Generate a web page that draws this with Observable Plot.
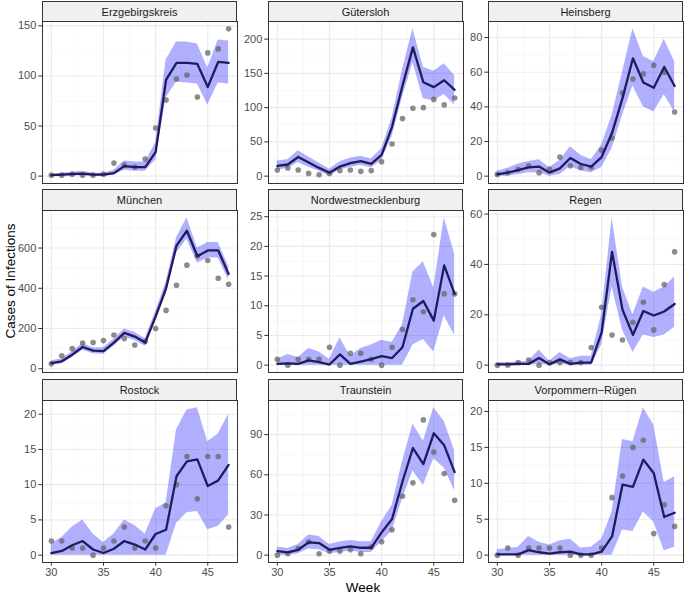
<!DOCTYPE html>
<html>
<head>
<meta charset="utf-8">
<script src="https://cdn.jsdelivr.net/npm/d3@7"></script>
<script src="https://cdn.jsdelivr.net/npm/@observablehq/plot@0.6"></script>
<style>
  html, body { margin: 0; padding: 0; background: #fff; }
  #chart { position: relative; width: 685px; height: 596px; font-family: "Liberation Sans", Arial, sans-serif; }
  .strip { position: absolute; box-sizing: border-box; background: #f0f0f0; border: 1px solid #333; color: #1a1a1a;
           font-size: 11px; display: flex; align-items: center; justify-content: center; }
  .panel { position: absolute; }
  .title { position: absolute; font-size: 13.5px; color: #000; white-space: nowrap; }
</style>
</head>
<body>
<div id="chart"></div>
<script>
const weeks = [30,31,32,33,34,35,36,37,38,39,40,41,42,43,44,45,46,47];
const counties = ["Erzgebirgskreis","Gütersloh","Heinsberg","München","Nordwestmecklenburg","Regen","Rostock","Traunstein","Vorpommern−Rügen"];
const xTicks = [30,35,40,45];
const yTicks = [
  [0,50,100,150],
  [0,50,100,150,200],
  [0,20,40,60,80],
  [0,200,400,600],
  [0,5,10,15,20,25],
  [0,20,40,60],
  [0,5,10,15,20],
  [0,30,60,90],
  [0,5,10,15,20]
];
const observed = [
  [1,1,2,1,1,2,13,11,9,17,48,76,97,101,79,123,127,147],
  [9,12,9,4,2,4,8,9,7,8,21,47,84,99,100,112,104,114],
  [1,2,4,6,2,4,11,6,5,5,15,22,48,56,59,64,60,37],
  [25,65,100,128,130,140,168,150,118,135,200,290,415,515,560,538,450,420],
  [1,0,1,1,1,3,0,2,2,1,0,3,6,11,9,22,12,12],
  [0,0,1,2,0,1,1,1,1,7,23,12,10,17,25,14,32,45],
  [2,2,1,1,0,1,2,4,1,2,1,7,10,14,8,14,14,4],
  [0,1,5,10,1,3,3,4,1,6,10,19,44,54,101,77,61,41],
  [0,1,0,1,1,1,1,0,0,0,1,8,11,15,16,3,7,4]
];
const fitted = [
  [1,1.5,2,2.5,1.5,1.5,3,10,9,9,24,96,113,113,112,89,114,113],
  [15,17,28,20,12,5,14,19,22,18,31,72,132,188,137,130,140,126],
  [1,2,3.5,5,5.5,2,4.5,10.5,7,5.5,11,25,45,68,54,51,63,52],
  [28,37,70,108,90,88,130,178,160,130,260,400,612,686,559,588,588,471],
  [0.2,0.3,0.2,0.8,0.5,0.1,1.8,0.2,0.6,1,1.5,1.2,3,9.5,10.8,7.5,16.8,12],
  [0.3,0.3,0.5,0.5,2.8,0.3,2.3,0.5,1,1,13,45,22,12,21.5,19.7,21.3,24.3],
  [0.3,0.6,1.4,2,0.8,0.3,0.9,2,1.5,0.8,3,3.6,11.2,13.3,13.6,9.8,10.6,12.8],
  [3,2,4,9.5,9,4,5.5,6.5,5.5,5.5,17,27,55,80,68,91,82,62],
  [0.1,0.1,0.1,0.7,0.4,0.2,0.4,0.5,0.1,0.1,0.5,2.6,9.8,9.5,13.3,11.4,5.3,5.9]
];
const lower = [
  [0,0,0.5,0.5,0,0,1,6,5,5,16,78,94,93,92,71,93,92],
  [9,11,20,13,7,0,9,13,16,12,23,58,115,165,113,110,119,104],
  [0,0,1,2,2,0,1,5.5,3,2,5,16,35,52,40,37,47,37],
  [18,25,55,92,75,72,112,158,140,112,235,370,575,645,525,550,550,440],
  [0,0,0,0,0,0,0,0,0,0,0,0,0,3.4,4.3,2.2,8.3,5],
  [0,0,0,0,0.5,0,0.5,0,0,0,8,31,14,5,12,11,12,15],
  [0,0,0,0,0,0,0,0,0,0,0,0,4.5,6,6.2,3.6,4.1,5.7],
  [0,0,1,4.5,4,1,2,3,2,2,10,18,42,63,52,72,65,48],
  [0,0,0,0,0,0,0,0,0,0,0,0,3.5,3.3,6,4.6,0.6,1.1]
];
const upper = [
  [2,3,4,5,3,3,6,15,14,14,33,116,134,134,132,108,136,135],
  [22,24,37,28,19,10,21,26,29,25,40,85,155,215,159,153,164,147],
  [3,4.5,7,8.5,9.5,5,9,17,12,9.5,18,35,60,85,69,66,79,66],
  [40,50,85,125,105,105,148,198,180,150,285,430,650,750,600,627,628,510],
  [1,1.8,1.3,2.8,2.2,1,4.6,1.5,2.8,3.4,4.2,3.8,6.8,15.7,17.4,13,24.8,18.7],
  [1,1,1.2,1.5,6,1.5,5,2.5,3.5,3.5,20,58.5,31,20,31,29,31,35],
  [1.6,2.5,4,5,3,1.8,3,5,4.2,3,6.6,7.4,17.8,20.6,20.9,16.1,17.2,20],
  [6,5,8,15,14,8,10,11,10,10,25,37,70,98,85,110,100,78],
  [0.8,0.9,1.1,2.6,1.8,1.4,2,2.2,1,1.1,2.2,6,16.1,15.8,20.5,18.1,10.1,10.9]
];

// layout
const colLeft = [42, 268, 488];
const panelW = 195;
const stripTop = [1, 189, 379];
const panelTop = [21, 210, 400];
const panelH = 162;
const leftM = 40;

const chart = document.getElementById("chart");
const xDomain = [30 - 0.05 * 17, 47 + 0.05 * 17];

function midpoints(t, lo, hi) {
  const step = t[1] - t[0];
  const out = [];
  for (let v = t[0] - step / 2; v <= t[t.length - 1] + step; v += step) {
    if (v >= lo && v <= hi) out.push(v);
  }
  return out;
}

counties.forEach((name, i) => {
  const row = Math.floor(i / 3), col = i % 3;
  const data = weeks.map((w, j) => ({week: w, obs: observed[i][j], fit: fitted[i][j], lo: lower[i][j], hi: upper[i][j]}));
  const all = data.flatMap(d => [d.obs, d.fit, d.lo, d.hi]);
  const [mn, mx] = d3.extent(all);
  const pad = (mx - mn) * 0.05;
  const yDomain = [mn - pad, mx + pad];
  const xMinor = midpoints(xTicks, xDomain[0], xDomain[1]);
  const yMinor = midpoints(yTicks[i], yDomain[0], yDomain[1]);
  const bottomRow = row === 2;
  const mb = bottomRow ? 24 : 1;

  const marks = [
    Plot.ruleX(xMinor, {stroke: "#f3f3f3", strokeWidth: 0.6}),
    Plot.ruleY(yMinor, {stroke: "#f3f3f3", strokeWidth: 0.6}),
    Plot.ruleX(xTicks, {stroke: "#ebebeb", strokeWidth: 1.1}),
    Plot.ruleY(yTicks[i], {stroke: "#ebebeb", strokeWidth: 1.1}),
    Plot.areaY(data, {x: "week", y1: "lo", y2: "hi", fill: "#0000ff", fillOpacity: 0.31, curve: "linear"}),
    Plot.dot(data, {x: "week", y: "obs", r: 2.8, fill: "#666666", fillOpacity: 0.75, stroke: "none"}),
    Plot.lineY(data, {x: "week", y: "fit", stroke: "#1f1b5e", strokeWidth: 2.3, curve: "linear"}),
    Plot.frame({stroke: "#333333", strokeWidth: 1}),
    Plot.axisY({ticks: yTicks[i], tickSize: 3.7, tickPadding: 2.5, fontSize: 11, stroke: "#333333", fill: "#4d4d4d", tickFormat: d => String(d), label: null})
  ];
  if (bottomRow) {
    marks.push(Plot.axisX({ticks: xTicks, tickSize: 3.7, tickPadding: 1.5, fontSize: 11, stroke: "#333333", fill: "#4d4d4d", tickFormat: d => String(d), label: null}));
  }

  const svg = Plot.plot({
    width: leftM + panelW + 1,
    height: 1 + panelH + mb,
    marginLeft: leftM,
    marginRight: 1,
    marginTop: 1,
    marginBottom: mb,
    style: {fontFamily: "'Liberation Sans', Arial, sans-serif", background: "transparent", overflow: "visible"},
    x: {domain: xDomain, axis: bottomRow ? undefined : null, label: null},
    y: {domain: yDomain, label: null},
    marks
  });
  const wrap = document.createElement("div");
  wrap.className = "panel";
  wrap.style.left = (colLeft[col] - leftM) + "px";
  wrap.style.top = (panelTop[row] - 1) + "px";
  wrap.appendChild(svg);
  chart.appendChild(wrap);

  const strip = document.createElement("div");
  strip.className = "strip";
  strip.style.left = colLeft[col] + "px";
  strip.style.top = stripTop[row] + "px";
  strip.style.width = panelW + "px";
  strip.style.height = (panelTop[row] - stripTop[row] + 1) + "px";
  strip.textContent = name;
  chart.appendChild(strip);
});

const xt = document.createElement("div");
xt.className = "title";
xt.textContent = "Week";
xt.style.left = "363px";
xt.style.top = "587px";
xt.style.transform = "translate(-50%, -50%)";
chart.appendChild(xt);

const yt = document.createElement("div");
yt.className = "title";
yt.textContent = "Cases of Infections";
yt.style.left = "10px";
yt.style.top = "281px";
yt.style.transform = "translate(-50%, -50%) rotate(-90deg)";
chart.appendChild(yt);
</script>
</body>
</html>
